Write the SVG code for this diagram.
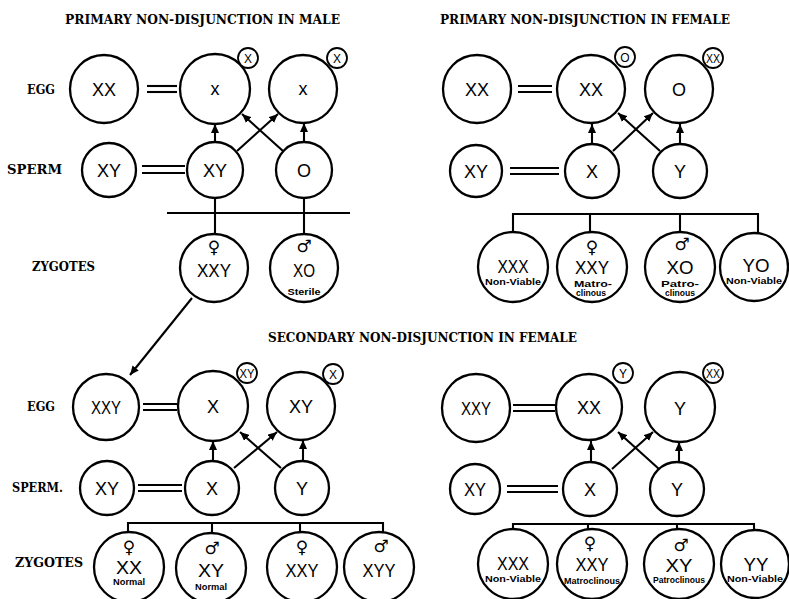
<svg xmlns="http://www.w3.org/2000/svg" width="789" height="599" viewBox="0 0 789 599">
<defs>
<style>
.c{fill:#fff;stroke:#000;stroke-width:2.3}
.s{fill:#fff;stroke:#000;stroke-width:1.8}
.ln{stroke:#000;stroke-width:2.1;fill:none}
.t{font-family:"Liberation Sans",Arial,sans-serif;text-anchor:middle;font-size:18px;fill:#000}
.st{font-family:"Liberation Sans",Arial,sans-serif;text-anchor:middle;font-size:12px;fill:#000}
.sub{font-family:"Liberation Sans",Arial,sans-serif;text-anchor:middle;font-size:9px;font-weight:bold;fill:#000}
.sym{font-family:"DejaVu Sans",sans-serif;text-anchor:middle;font-size:17px;fill:#000}
.lab{font-family:"DejaVu Serif","Liberation Serif",serif;font-weight:900;font-size:12px;fill:#000}
.ttl{font-family:"DejaVu Serif","Liberation Serif",serif;font-weight:900;font-size:13px;fill:#000}
</style>
<marker id="ah" markerUnits="userSpaceOnUse" markerWidth="10" markerHeight="8" refX="9" refY="4" orient="auto">
<path d="M0,0 L9,4 L0,8 z" fill="#000"/>
</marker>
</defs>
<rect width="789" height="599" fill="#fff"/>

<!-- titles and row labels -->
<g id="labels">
<text class="ttl" x="65" y="24" textLength="275" lengthAdjust="spacingAndGlyphs">PRIMARY NON-DISJUNCTION IN MALE</text>
<text class="ttl" x="440" y="24" textLength="290" lengthAdjust="spacingAndGlyphs">PRIMARY NON-DISJUNCTION IN FEMALE</text>
<text class="ttl" x="268" y="342" textLength="309" lengthAdjust="spacingAndGlyphs">SECONDARY NON-DISJUNCTION IN FEMALE</text>
<text class="lab" x="27" y="94" textLength="28" lengthAdjust="spacingAndGlyphs">EGG</text>
<text class="lab" x="7" y="174" textLength="55" lengthAdjust="spacingAndGlyphs">SPERM</text>
<text class="lab" x="32" y="271" textLength="63" lengthAdjust="spacingAndGlyphs">ZYGOTES</text>
<text class="lab" x="27" y="411" textLength="28" lengthAdjust="spacingAndGlyphs">EGG</text>
<text class="lab" x="12" y="492" textLength="51" lengthAdjust="spacingAndGlyphs">SPERM.</text>
<text class="lab" x="15" y="567" textLength="68" lengthAdjust="spacingAndGlyphs">ZYGOTES</text>
</g>

<!-- connectors -->
<g id="connectors">
<!-- top-left -->
<line class="ln" x1="147" y1="86" x2="177" y2="86"/><line class="ln" x1="147" y1="92" x2="177" y2="92"/>
<line class="ln" x1="142" y1="166" x2="185" y2="166"/><line class="ln" x1="142" y1="173" x2="185" y2="173"/>
<line class="ln" x1="215" y1="142" x2="215" y2="124" marker-end="url(#ah)"/>
<line class="ln" x1="304" y1="142" x2="304" y2="123" marker-end="url(#ah)"/>
<line class="ln" x1="237" y1="151" x2="278" y2="114" marker-end="url(#ah)"/>
<line class="ln" x1="283" y1="151" x2="242" y2="114" marker-end="url(#ah)"/>
<line class="ln" x1="167" y1="213" x2="350" y2="213"/>
<line class="ln" x1="215" y1="198" x2="215" y2="234"/>
<line class="ln" x1="304" y1="198" x2="304" y2="234"/>
<line class="ln" x1="192" y1="298" x2="130" y2="375" marker-end="url(#ah)"/>
<!-- top-right -->
<line class="ln" x1="518" y1="86" x2="552" y2="86"/><line class="ln" x1="518" y1="92" x2="552" y2="92"/>
<line class="ln" x1="510" y1="168" x2="559" y2="168"/><line class="ln" x1="510" y1="174" x2="559" y2="174"/>
<line class="ln" x1="592" y1="144" x2="592" y2="124" marker-end="url(#ah)"/>
<line class="ln" x1="680" y1="144" x2="680" y2="124" marker-end="url(#ah)"/>
<line class="ln" x1="613" y1="151" x2="653" y2="113" marker-end="url(#ah)"/>
<line class="ln" x1="660" y1="151" x2="618" y2="113" marker-end="url(#ah)"/>
<line class="ln" x1="513" y1="214" x2="759" y2="214"/>
<line class="ln" x1="513" y1="213" x2="513" y2="232"/>
<line class="ln" x1="590" y1="214" x2="590" y2="232"/>
<line class="ln" x1="680" y1="214" x2="680" y2="232"/>
<line class="ln" x1="758" y1="213" x2="758" y2="233"/>
<!-- bottom-left -->
<line class="ln" x1="143" y1="404" x2="177" y2="404"/><line class="ln" x1="143" y1="410" x2="177" y2="410"/>
<line class="ln" x1="138" y1="485" x2="182" y2="485"/><line class="ln" x1="138" y1="491" x2="182" y2="491"/>
<line class="ln" x1="213" y1="461" x2="213" y2="441" marker-end="url(#ah)"/>
<line class="ln" x1="303" y1="461" x2="303" y2="440" marker-end="url(#ah)"/>
<line class="ln" x1="234" y1="468" x2="277" y2="432" marker-end="url(#ah)"/>
<line class="ln" x1="281" y1="468" x2="240" y2="432" marker-end="url(#ah)"/>
<line class="ln" x1="128" y1="523" x2="383" y2="523"/>
<line class="ln" x1="128" y1="522" x2="128" y2="532"/>
<line class="ln" x1="212" y1="523" x2="212" y2="532"/>
<line class="ln" x1="300" y1="523" x2="300" y2="532"/>
<line class="ln" x1="383" y1="522" x2="383" y2="532"/>
<!-- bottom-right -->
<line class="ln" x1="513" y1="405" x2="555" y2="405"/><line class="ln" x1="513" y1="411" x2="555" y2="411"/>
<line class="ln" x1="507" y1="486" x2="558" y2="486"/><line class="ln" x1="507" y1="492" x2="558" y2="492"/>
<line class="ln" x1="591" y1="462" x2="591" y2="441" marker-end="url(#ah)"/>
<line class="ln" x1="679" y1="462" x2="679" y2="442" marker-end="url(#ah)"/>
<line class="ln" x1="612" y1="469" x2="653" y2="432" marker-end="url(#ah)"/>
<line class="ln" x1="659" y1="469" x2="618" y2="432" marker-end="url(#ah)"/>
<line class="ln" x1="513" y1="524" x2="754" y2="524"/>
<line class="ln" x1="513" y1="523" x2="513" y2="531"/>
<line class="ln" x1="588" y1="524" x2="588" y2="531"/>
<line class="ln" x1="677" y1="524" x2="677" y2="531"/>
<line class="ln" x1="754" y1="523" x2="754" y2="531"/>
</g>

<!-- TOP-LEFT: primary non-disjunction in male -->
<g id="tl-egg-xx"><circle class="c" cx="104" cy="89" r="34"/><text class="t" x="104" y="96" font-size="17">XX</text></g>
<g id="tl-egg-x1"><circle class="c" cx="215" cy="89" r="35"/><text class="t" x="215" y="95" font-size="17">x</text><circle class="s" cx="248" cy="58" r="10"/><text class="st" x="248" y="63">X</text></g>
<g id="tl-egg-x2"><circle class="c" cx="303" cy="89" r="34"/><text class="t" x="303" y="95" font-size="19">x</text><circle class="s" cx="337" cy="58" r="10"/><text class="st" x="337" y="63">X</text></g>
<g id="tl-sperm-xy"><circle class="c" cx="109" cy="170" r="27"/><text class="t" x="109" y="177" textLength="24" lengthAdjust="spacingAndGlyphs">XY</text></g>
<g id="tl-sperm-xy2"><circle class="c" cx="215" cy="170" r="28"/><text class="t" x="215" y="177" textLength="24" lengthAdjust="spacingAndGlyphs">XY</text></g>
<g id="tl-sperm-o"><circle class="c" cx="304" cy="170" r="28"/><text class="t" x="304" y="177" font-size="17">O</text></g>
<g id="tl-zyg-xxy"><circle class="c" cx="214" cy="268" r="34"/><text class="sym" x="214" y="253">♀</text><text class="t" x="214" y="277" font-size="24" textLength="34" lengthAdjust="spacingAndGlyphs">XXY</text></g>
<g id="tl-zyg-xo"><circle class="c" cx="304" cy="268" r="34"/><text class="sym" x="304" y="252">♂</text><text class="t" x="304" y="277" font-size="24" textLength="22" lengthAdjust="spacingAndGlyphs">XO</text><text class="sub" x="304" y="295" textLength="33" lengthAdjust="spacingAndGlyphs">Sterile</text></g>

<!-- TOP-RIGHT: primary non-disjunction in female -->
<g id="tr-egg-xx"><circle class="c" cx="477" cy="89" r="34"/><text class="t" x="477" y="96" textLength="24" lengthAdjust="spacingAndGlyphs">XX</text></g>
<g id="tr-egg-xx2"><circle class="c" cx="591" cy="89" r="34"/><text class="t" x="591" y="96" textLength="24" lengthAdjust="spacingAndGlyphs">XX</text><circle class="s" cx="625" cy="57" r="10"/><text class="st" x="625" y="62">O</text></g>
<g id="tr-egg-o"><circle class="c" cx="679" cy="89" r="34"/><text class="t" x="679" y="96">O</text><circle class="s" cx="713" cy="58" r="10"/><text class="st" x="713" y="63" textLength="14" lengthAdjust="spacingAndGlyphs">XX</text></g>
<g id="tr-sperm-xy"><circle class="c" cx="476" cy="171" r="26"/><text class="t" x="476" y="178" textLength="24" lengthAdjust="spacingAndGlyphs">XY</text></g>
<g id="tr-sperm-x"><circle class="c" cx="592" cy="171" r="27"/><text class="t" x="592" y="178">X</text></g>
<g id="tr-sperm-y"><circle class="c" cx="680" cy="171" r="27"/><text class="t" x="680" y="178">Y</text></g>
<g id="tr-zyg-xxx"><circle class="c" cx="513" cy="267" r="35"/><text class="t" x="513" y="273" textLength="31" lengthAdjust="spacingAndGlyphs">XXX</text><text class="sub" x="513" y="285" textLength="56" lengthAdjust="spacingAndGlyphs">Non-Viable</text></g>
<g id="tr-zyg-xxy"><circle class="c" cx="592" cy="267" r="35"/><text class="sym" x="592" y="253">♀</text><text class="t" x="592" y="274" font-size="22" textLength="34" lengthAdjust="spacingAndGlyphs">XXY</text><text class="sub" x="593" y="287" textLength="38" lengthAdjust="spacingAndGlyphs">Matro-</text><text class="sub" x="591" y="296" textLength="30" lengthAdjust="spacingAndGlyphs">clinous</text></g>
<g id="tr-zyg-xo"><circle class="c" cx="680" cy="267" r="35"/><text class="sym" x="682" y="250">♂</text><text class="t" x="680" y="274" font-size="20" textLength="27" lengthAdjust="spacingAndGlyphs">XO</text><text class="sub" x="680" y="287" textLength="38" lengthAdjust="spacingAndGlyphs">Patro-</text><text class="sub" x="680" y="296" textLength="30" lengthAdjust="spacingAndGlyphs">clinous</text></g>
<g id="tr-zyg-yo"><circle class="c" cx="754" cy="267" r="34"/><text class="t" x="756" y="272" font-size="19" textLength="27" lengthAdjust="spacingAndGlyphs">YO</text><text class="sub" x="754" y="284" textLength="56" lengthAdjust="spacingAndGlyphs">Non-Viable</text></g>

<!-- BOTTOM-LEFT: secondary non-disjunction in female -->
<g id="bl-egg-xxy"><circle class="c" cx="106" cy="407" r="33"/><text class="t" x="106" y="414" textLength="30" lengthAdjust="spacingAndGlyphs">XXY</text></g>
<g id="bl-egg-x"><circle class="c" cx="213" cy="406" r="35"/><text class="t" x="213" y="413">X</text><circle class="s" cx="247" cy="373" r="10"/><text class="st" x="247" y="378" textLength="15" lengthAdjust="spacingAndGlyphs">XY</text></g>
<g id="bl-egg-xy"><circle class="c" cx="301" cy="406" r="34"/><text class="t" x="301" y="413" textLength="24" lengthAdjust="spacingAndGlyphs">XY</text><circle class="s" cx="333" cy="374" r="10"/><text class="st" x="333" y="379">X</text></g>
<g id="bl-sperm-xy"><circle class="c" cx="107" cy="488" r="27"/><text class="t" x="107" y="495" textLength="24" lengthAdjust="spacingAndGlyphs">XY</text></g>
<g id="bl-sperm-x"><circle class="c" cx="212" cy="488" r="27"/><text class="t" x="212" y="495">X</text></g>
<g id="bl-sperm-y"><circle class="c" cx="302" cy="488" r="27"/><text class="t" x="302" y="495">Y</text></g>
<g id="bl-zyg-xx"><circle class="c" cx="129" cy="567" r="35"/><text class="sym" x="129" y="553">♀</text><text class="t" x="129" y="574" textLength="26" lengthAdjust="spacingAndGlyphs">XX</text><text class="sub" x="129" y="585" font-size="8" textLength="32" lengthAdjust="spacingAndGlyphs">Normal</text></g>
<g id="bl-zyg-xy"><circle class="c" cx="211" cy="568" r="35"/><text class="sym" x="212" y="554">♂</text><text class="t" x="211" y="577" font-size="22" textLength="26" lengthAdjust="spacingAndGlyphs">XY</text><text class="sub" x="211" y="590" font-size="8" textLength="32" lengthAdjust="spacingAndGlyphs">Normal</text></g>
<g id="bl-zyg-xxy"><circle class="c" cx="302" cy="567" r="35"/><text class="sym" x="302" y="553">♀</text><text class="t" x="302" y="577" font-size="22" textLength="33" lengthAdjust="spacingAndGlyphs">XXY</text></g>
<g id="bl-zyg-xyy"><circle class="c" cx="379" cy="567" r="35"/><text class="sym" x="381" y="552">♂</text><text class="t" x="379" y="577" font-size="22" textLength="33" lengthAdjust="spacingAndGlyphs">XYY</text></g>

<!-- BOTTOM-RIGHT: secondary non-disjunction in female -->
<g id="br-egg-xxy"><circle class="c" cx="476" cy="408" r="34"/><text class="t" x="476" y="415" textLength="30" lengthAdjust="spacingAndGlyphs">XXY</text></g>
<g id="br-egg-xx"><circle class="c" cx="589" cy="407" r="33"/><text class="t" x="589" y="414" textLength="24" lengthAdjust="spacingAndGlyphs">XX</text><circle class="s" cx="623" cy="373" r="10"/><text class="st" x="623" y="378">Y</text></g>
<g id="br-egg-y"><circle class="c" cx="680" cy="407" r="35"/><text class="t" x="680" y="415" font-size="22">Y</text><circle class="s" cx="713" cy="373" r="10"/><text class="st" x="713" y="378" textLength="14" lengthAdjust="spacingAndGlyphs">XX</text></g>
<g id="br-sperm-xy"><circle class="c" cx="475" cy="489" r="25"/><text class="t" x="475" y="496" textLength="22" lengthAdjust="spacingAndGlyphs">XY</text></g>
<g id="br-sperm-x"><circle class="c" cx="590" cy="489" r="27"/><text class="t" x="590" y="496">X</text></g>
<g id="br-sperm-y"><circle class="c" cx="677" cy="489" r="27"/><text class="t" x="677" y="496">Y</text></g>
<g id="br-zyg-xxx"><circle class="c" cx="513" cy="564" r="35"/><text class="t" x="513" y="570" textLength="32" lengthAdjust="spacingAndGlyphs">XXX</text><text class="sub" x="513" y="582" textLength="56" lengthAdjust="spacingAndGlyphs">Non-Viable</text></g>
<g id="br-zyg-xxy"><circle class="c" cx="592" cy="564" r="35"/><text class="sym" x="590" y="549">♀</text><text class="t" x="592" y="571" font-size="18" textLength="33" lengthAdjust="spacingAndGlyphs">XXY</text><text class="sub" x="592" y="584" font-size="8" textLength="56" lengthAdjust="spacingAndGlyphs">Matroclinous</text></g>
<g id="br-zyg-xy"><circle class="c" cx="679" cy="564" r="35"/><text class="sym" x="681" y="551">♂</text><text class="t" x="679" y="572" font-size="20" textLength="27" lengthAdjust="spacingAndGlyphs">XY</text><text class="sub" x="679" y="583" font-size="7" textLength="52" lengthAdjust="spacingAndGlyphs">Patroclinous</text></g>
<g id="br-zyg-yy"><circle class="c" cx="755" cy="564" r="34"/><text class="t" x="756" y="571" font-size="21" textLength="25" lengthAdjust="spacingAndGlyphs">YY</text><text class="sub" x="755" y="582" textLength="56" lengthAdjust="spacingAndGlyphs">Non-Viable</text></g>
</svg>
